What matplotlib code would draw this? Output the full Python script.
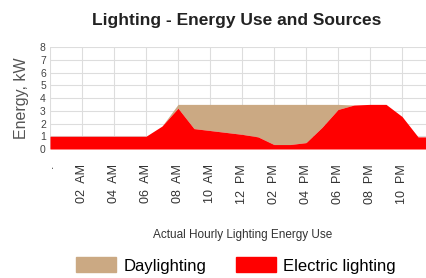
"""Lighting energy use chart: electric lighting + daylighting stacked areas."""

import matplotlib

matplotlib.use("Agg")

import matplotlib.pyplot as plt
from matplotlib.patches import Patch

hours = list(range(25))
electric_kw = [1.0, 1.0, 1.0, 1.0, 1.0, 1.0, 1.0, 1.8, 3.2, 1.6, 1.45, 1.3, 1.15,
               0.95, 0.35, 0.35, 0.5, 1.7, 3.1, 3.45, 3.5, 3.5, 2.55, 0.95, 0.95]
daylight_kw = [0, 0, 0, 0, 0, 0, 0, 0, 0.3, 1.9, 2.05, 2.2, 2.35,
               2.55, 3.15, 3.15, 3.0, 1.8, 0.4, 0, 0, 0, 0, 0, 0]
tick_hours = [0, 2, 4, 6, 8, 10, 12, 14, 16, 18, 20, 22]
tick_labels = [".", "02  AM", "04  AM", "06  AM", "08  AM", "10  AM", "12  PM",
               "02  PM", "04  PM", "06  PM", "08  PM", "10  PM"]

plt.rcParams["font.family"] = ["Liberation Sans", "DejaVu Sans"]

fig = plt.figure(figsize=(4.27, 2.78), dpi=100)
ax = fig.add_axes([50 / 427, 129 / 278, 1 - 50 / 427, 102 / 278])

top = [e + d for e, d in zip(electric_kw, daylight_kw)]
ax.fill_between(hours, electric_kw, top, color="#CBA983", lw=0)
ax.fill_between(hours, 0, electric_kw, color="#FF0000", lw=0)

ax.set_xlim(0, 23.56)
ax.set_ylim(0, 8)
ax.set_yticks(range(9))
ax.set_xticks(tick_hours)
ax.set_xticklabels(tick_labels, rotation=90, fontsize=9, color="#333333")
ax.tick_params(axis="y", labelsize=7.5, labelcolor="#444444", length=0, pad=3)
ax.tick_params(axis="x", length=0, pad=11)
ax.grid(True, color="#DDDDDD", lw=0.8)
ax.set_axisbelow(True)
for spine in ax.spines.values():
    spine.set_visible(False)

ax.set_ylabel("Energy, kW", fontsize=11.5, color="#555555", labelpad=8)
fig.text(0.554, 0.925, "Lighting - Energy Use and Sources", ha="center",
         va="center", fontsize=12.5, fontweight="bold", color="#222222")
fig.text(0.568, 0.155, "Actual Hourly Lighting Energy Use", ha="center",
         va="center", fontsize=8.5, color="#333333")

handles = [Patch(color="#CBA983", label="Daylighting"),
           Patch(color="#FF0000", label="Electric lighting")]
fig.legend(handles=handles, loc="center", bbox_to_anchor=(0.553, 0.045), ncol=2,
           frameon=False, fontsize=12, handlelength=2.4, handleheight=1.0,
           columnspacing=1.8, handletextpad=0.42, borderpad=0.1)

fig.savefig("out.png", dpi=100)
